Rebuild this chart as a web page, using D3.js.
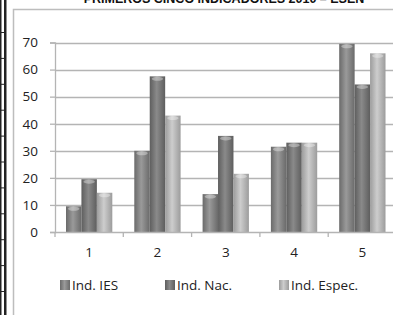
<!DOCTYPE html>
<html>
<head>
<meta charset="utf-8">
<script src="https://cdn.jsdelivr.net/npm/d3@7"></script>
<style>
  body { margin: 0; background: #fff; }
  svg { display: block; font-family: "Open Sans", "DejaVu Sans", sans-serif; }
</style>
</head>
<body>
<script>
var categories = ["1", "2", "3", "4", "5"];
var seriesNames = ["Ind. IES", "Ind. Nac.", "Ind. Espec."];
var indIES = [9.5, 30, 14, 31.5, 69.5];
var indNac = [19.5, 57.5, 35.5, 33, 54.5];
var indEspec = [14.5, 43, 21.5, 33, 66];
var yTicks = [0, 10, 20, 30, 40, 50, 60, 70];

var svgWidth = 393;
var svgHeight = 315;

var svg = d3.select("body")
  .append("svg")
  .attr("width", svgWidth)
  .attr("height", svgHeight);

// gradients for the cylinder look
var defs = svg.append("defs");
var colors = [
  { id: "gIES", edge: "#6a6a6a", mid: "#9a9a9a" },
  { id: "gNac", edge: "#5e5e5e", mid: "#8a8a8a" },
  { id: "gEsp", edge: "#9c9c9c", mid: "#cdcdcd" }
];
colors.forEach(function(c) {
  var g = defs.append("linearGradient")
    .attr("id", c.id)
    .attr("x1", "0%").attr("x2", "100%")
    .attr("y1", "0%").attr("y2", "0%");
  g.append("stop").attr("offset", "0%").attr("stop-color", c.edge);
  g.append("stop").attr("offset", "45%").attr("stop-color", c.mid);
  g.append("stop").attr("offset", "100%").attr("stop-color", c.edge);
});

// page border lines on the left (table of the document)
svg.append("rect").attr("x", 0).attr("y", 0).attr("width", 1.5).attr("height", svgHeight).attr("fill", "#222");
svg.append("rect").attr("x", 4).attr("y", 0).attr("width", 2.5).attr("height", svgHeight).attr("fill", "#222");
d3.range(32, 315, 25.9).forEach(function(y) {
  svg.append("rect").attr("x", 0).attr("y", y).attr("width", 4).attr("height", 1).attr("fill", "#222");
});

// chart frame
svg.append("path")
  .attr("d", "M13.5,315 V9.5 H393")
  .attr("fill", "none")
  .attr("stroke", "#bdbdbd")
  .attr("stroke-width", 1.5);

// title (cut off at the top)
svg.append("text")
  .attr("x", 224)
  .attr("y", 3)
  .attr("text-anchor", "middle")
  .style("font-family", "'Liberation Sans', Arial, sans-serif")
  .style("font-weight", "bold")
  .style("font-size", "12.5px")
  .attr("fill", "#111")
  .text("PRIMEROS CINCO INDICADORES 2010 \u2013 ESEN");

var xLeft = 55;
var bandW = 68.3;
var xScale = d3.scaleBand()
  .domain(categories)
  .range([xLeft, xLeft + bandW * categories.length])
  .paddingInner(0)
  .paddingOuter(0);

var yScale = d3.scaleLinear()
  .domain([0, 70])
  .range([232, 42.5]);

var xSub = d3.scaleBand()
  .domain(seriesNames)
  .range([11, bandW - 11]);

// gridlines
svg.append("g")
  .selectAll("line")
  .data(yTicks.slice(1))
  .enter()
  .append("line")
  .attr("x1", xLeft)
  .attr("x2", svgWidth)
  .attr("y1", function(d) { return Math.round(yScale(d)) + 0.5; })
  .attr("y2", function(d) { return Math.round(yScale(d)) + 0.5; })
  .attr("stroke", "#b4b4b4")
  .attr("stroke-width", 1.3);

// y axis
var yAxis = svg.append("g")
  .attr("transform", "translate(" + xLeft + ",0)")
  .call(d3.axisLeft(yScale).tickValues(yTicks).tickSize(5).tickPadding(12));
yAxis.select(".domain").attr("stroke", "#b4b4b4").attr("stroke-width", 1.3);
yAxis.selectAll(".tick line").attr("stroke", "#b4b4b4").attr("stroke-width", 1.3);
yAxis.selectAll(".tick text")
  .attr("fill", "#222")
  .style("font-size", "13.5px")
  .style("font-family", "'Open Sans', sans-serif");

// bars
var seriesData = [indIES, indNac, indEspec];
var gradIds = ["gIES", "gNac", "gEsp"];
var groups = svg.selectAll(".series")
  .data(seriesData)
  .enter()
  .append("g")
  .attr("class", "series");

groups.each(function(vals, si) {
  var g = d3.select(this);
  g.selectAll("rect.bar")
    .data(vals)
    .enter()
    .append("rect")
    .attr("class", "bar")
    .attr("x", function(d, i) { return xScale(categories[i]) + xSub(seriesNames[si]); })
    .attr("y", function(d) { return yScale(d); })
    .attr("width", xSub.bandwidth())
    .attr("height", function(d) { return yScale(0) - yScale(d); })
    .attr("fill", "url(#" + gradIds[si] + ")");
  // top cap highlight
  g.selectAll("ellipse.cap")
    .data(vals)
    .enter()
    .append("ellipse")
    .attr("class", "cap")
    .attr("cx", function(d, i) { return xScale(categories[i]) + xSub(seriesNames[si]) + xSub.bandwidth() / 2; })
    .attr("cy", function(d) { return yScale(d) + 2.5; })
    .attr("rx", xSub.bandwidth() / 2 - 2)
    .attr("ry", 2)
    .attr("fill", "#fff")
    .attr("opacity", 0.35);
});

// x axis
var xAxis = svg.append("g")
  .attr("transform", "translate(0," + yScale(0) + ")")
  .call(d3.axisBottom(xScale).tickSize(0).tickPadding(15));
xAxis.select(".domain").remove();
xAxis.selectAll(".tick text")
  .attr("fill", "#222")
  .style("font-size", "13.5px")
  .style("font-family", "'Open Sans', sans-serif");
svg.append("line")
  .attr("x1", xLeft).attr("x2", svgWidth)
  .attr("y1", yScale(0) + 0.5).attr("y2", yScale(0) + 0.5)
  .attr("stroke", "#b4b4b4").attr("stroke-width", 1.3);
svg.append("g")
  .selectAll("line")
  .data(d3.range(categories.length + 1))
  .enter()
  .append("line")
  .attr("x1", function(d) { return xLeft + d * bandW; })
  .attr("x2", function(d) { return xLeft + d * bandW; })
  .attr("y1", yScale(0))
  .attr("y2", yScale(0) + 5)
  .attr("stroke", "#b4b4b4")
  .attr("stroke-width", 1.3);

// legend
var legendX = [60, 165, 279];
var legend = svg.selectAll(".legend")
  .data(seriesNames)
  .enter()
  .append("g")
  .attr("class", "legend")
  .attr("transform", function(d, i) { return "translate(" + legendX[i] + ",280)"; });
legend.append("rect")
  .attr("width", 10).attr("height", 10)
  .attr("fill", function(d, i) { return "url(#" + gradIds[i] + ")"; });
legend.append("text")
  .attr("x", 12)
  .attr("y", 10)
  .attr("fill", "#222")
  .style("font-size", "13.5px")
  .style("font-family", "'Open Sans', sans-serif")
  .text(function(d) { return d; });
</script>
</body>
</html>
